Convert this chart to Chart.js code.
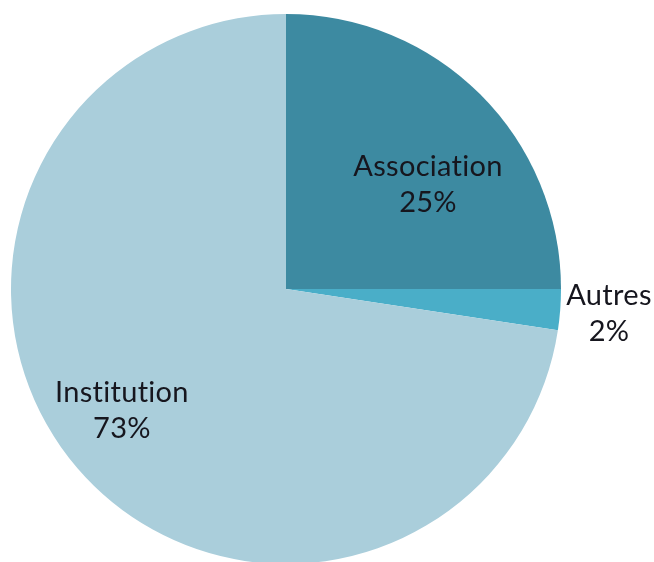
<!DOCTYPE html>
<html>
<head>
<meta charset="utf-8">
<script src="https://cdn.jsdelivr.net/npm/chart.js@4/dist/chart.umd.min.js"></script>
<style>
  html, body { margin: 0; padding: 0; background: #fff; overflow: hidden; }
  #wrap { width: 654px; height: 580px; }
</style>
</head>
<body>
<div id="wrap"><canvas id="pie" width="654" height="580"></canvas></div>
<script>
// categories and shares (percent)
let labels = ['Association', 'Autres', 'Institution'];
let values = [25, 2.4, 72.6];
let shown = ['25%', '2%', '73%'];

let colors = ['#3d8aa1', '#4aaec8', '#aacedb'];
// label placement: turn from the slice middle (degrees), distance as share of radius
let labelTurn = [8.8, 0, 4.1];
let labelPos = [0.64, 1.178, 0.743];

let sliceLabels = {
	id: 'sliceLabels',
	afterDatasetsDraw(chart) {
		let ctx = chart.ctx;
		let meta = chart.getDatasetMeta(0);
		ctx.save();
		ctx.font = '29px Lato, "Open Sans", sans-serif';
		// a little spacing also stops the "ti" ligature of Lato
		ctx.letterSpacing = '0.3px';
		ctx.fillStyle = '#16161e';
		ctx.textAlign = 'center';
		ctx.textBaseline = 'middle';
		meta.data.forEach(function (arc, i) {
			let p = arc.getProps(['x', 'y', 'startAngle', 'endAngle', 'outerRadius'], true);
			let mid = (p.startAngle + p.endAngle) / 2 + labelTurn[i] * Math.PI / 180;
			let r = p.outerRadius * labelPos[i];
			let cx = p.x + Math.cos(mid) * r;
			let cy = p.y + Math.sin(mid) * r;
			ctx.fillText(labels[i], cx, cy - 18);
			ctx.fillText(shown[i], cx, cy + 18);
		});
		ctx.restore();
	}
};

new Chart(document.getElementById('pie'), {
	type: 'pie',
	data: {
		labels: labels,
		datasets: [{
			data: values,
			backgroundColor: colors,
			borderWidth: 0
		}]
	},
	options: {
		responsive: false,
		animation: false,
		layout: { padding: { left: 11, right: 93, top: 14, bottom: 16 } },
		plugins: {
			legend: { display: false },
			tooltip: { enabled: false }
		}
	},
	plugins: [sliceLabels]
});
</script>
</body>
</html>
